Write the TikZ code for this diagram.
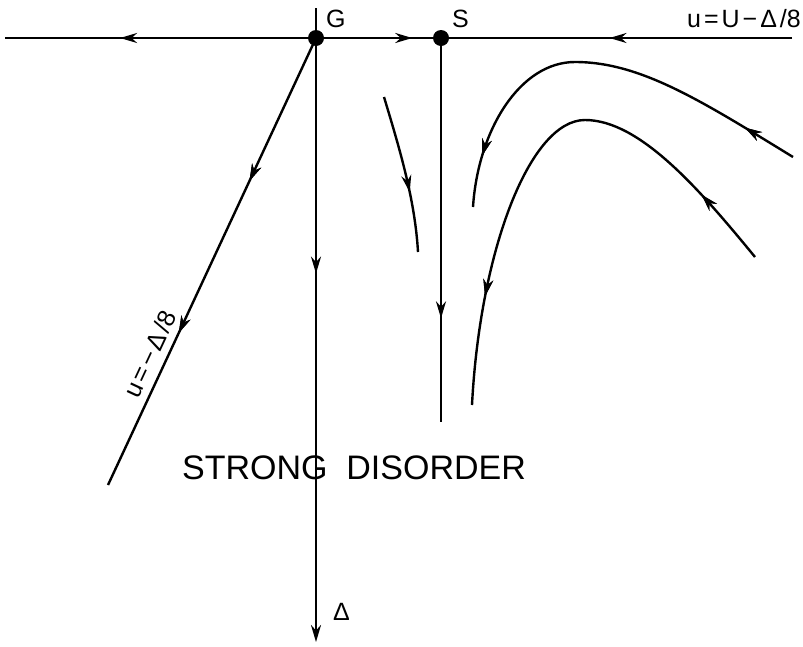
\documentclass[tikz,border=0pt]{standalone}
\usepackage{fontspec}
\setmainfont{Liberation Sans}
\usetikzlibrary{arrows.meta,decorations.markings}
\tikzset{
  flow/.style={line width=2.4pt},
  fp/.style={circle,fill=black,inner sep=0pt,minimum size=16pt},
  lbl/.style={font=\fontsize{25}{25}\selectfont,inner sep=0pt},
  marr/.style={postaction={decorate},decoration={markings,mark=at position #1 with {\arrow{Stealth[length=17pt,width=10pt]}}}},
  endarr/.style={-{Stealth[length=17pt,width=10pt]}}
}
\begin{document}
\begin{tikzpicture}[x=1pt,y=-1pt]
\useasboundingbox (0,0) rectangle (803,646);
% fixed points
\node[fp] (G) at (316,38) {};
\node[fp] (S) at (441,38) {};
\node[lbl,anchor=west] (Gl) at (326,19) {G};
\node[lbl,anchor=west] (Sl) at (452,19) {S};
% free ends
\coordinate (L) at (5,38);
\coordinate (R) at (792,38);
\coordinate (T) at (316,8);
\coordinate (B) at (316,642);
\coordinate (SB) at (441,422);
\coordinate (D) at (108,485);
% axes
\draw[flow,marr=0.63] (G.center) -- (L);
\draw[flow,marr=0.77] (G.center) -- (S.center);
\draw[flow,marr=0.52] (R) -- (S.center);
\draw[flow] (T) -- (G.center);
\draw[flow,endarr,marr=0.39] (G.center) -- (B);
\draw[flow,marr=0.73] (S.center) -- (SB);
\draw[flow,marr=0.32,marr=0.66] (G.center) -- (D);
% flow curves
\draw[flow,marr=0.62] (384,97) .. controls (400,150) and (415,200) .. (418,252);
\draw[flow,marr=0.13,marr=0.88] (793,157) .. controls (700,100) and (640,62) .. (575,62) .. controls (520,62) and (478,130) .. (473,207);
\draw[flow,marr=0.15,marr=0.8] (755,257) .. controls (700,190) and (640,120) .. (585,120) .. controls (530,120) and (480,250) .. (472,405);
% labels
\node[lbl,anchor=east] (Ul) at (801,19) {u\kern3pt=\kern3ptU\kern3pt−\kern3ptΔ\kern3pt/8};
\node[lbl,rotate=65] (Dl) at (150,354) {u\kern3pt=\kern3pt−\kern3ptΔ\kern3pt/8};
\node[font=\fontsize{34}{34}\selectfont,inner sep=0pt] (SD) at (354,468) {STRONG\ \ DISORDER};
\node[lbl,anchor=west] (Del) at (333,612) {Δ};
\end{tikzpicture}
\end{document}
